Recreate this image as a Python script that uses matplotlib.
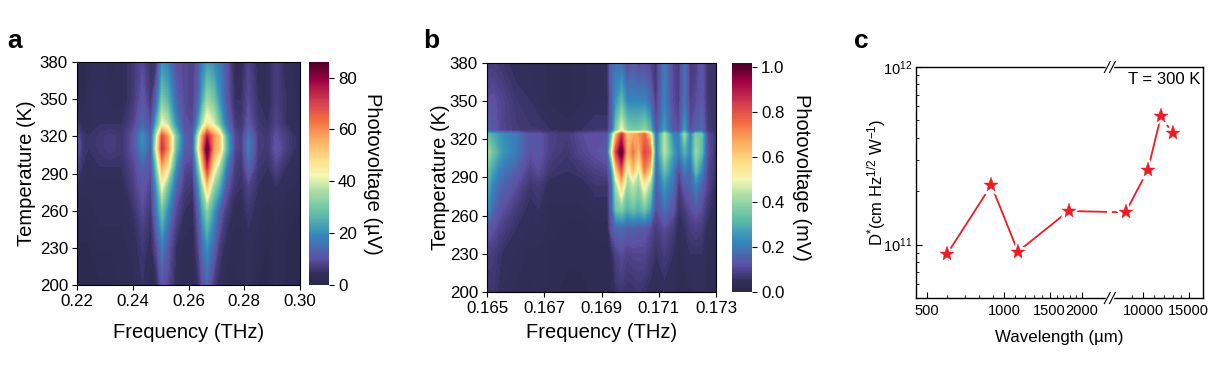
import numpy as np
import matplotlib
matplotlib.use('Agg')
import matplotlib.pyplot as plt
from matplotlib.colors import LinearSegmentedColormap
from matplotlib.patches import Rectangle
from matplotlib.ticker import FixedLocator, FixedFormatter, NullFormatter, LogLocator

plt.rcParams['font.family'] = ['Liberation Sans', 'DejaVu Sans']
plt.rcParams['mathtext.fontset'] = 'custom'
plt.rcParams['mathtext.rm'] = 'Liberation Sans'
plt.rcParams['mathtext.it'] = 'Liberation Sans'

# panel a
freq_a = [.22, .222, .224, .228, .232, .236, .24, .2435, .2465, .2485, .2505, .2525, .2555, .2585, .2615,
          .2635, .265, .2667, .269, .271, .2735, .2765, .279, .2815, .285, .2885, .2915, .295, .30]
temp_a = [200, 230, 260, 280, 295, 310, 320, 330, 350, 380]
a_200 = [2, 2, 2, 2, 2, 3, 3, 5, 3, 4, 11, 9, 4, 3, 3, 5, 10, 13, 7, 4, 3, 2, 3, 4, 2, 2, 3, 2, 2]
a_230 = [2, 2, 2, 3, 3, 3, 4, 6, 4, 9, 17, 11, 5, 3, 3, 8, 15, 20, 13, 7, 4, 3, 3, 4, 3, 2, 3, 2, 2]
a_260 = [3, 3, 3, 4, 4, 4, 5, 9, 6, 17, 29, 20, 9, 5, 4, 12, 24, 32, 22, 13, 7, 4, 4, 6, 4, 3, 4, 3, 2]
a_280 = [5, 4, 4, 4, 4, 4, 7, 11, 8, 22, 42, 30, 14, 7, 6, 20, 34, 52, 34, 26, 12, 6, 5, 8, 5, 4, 5, 4, 3]
a_295 = [8, 5, 4, 5, 5, 5, 8, 13, 10, 30, 55, 46, 20, 9, 8, 28, 50, 72, 46, 36, 18, 7, 6, 13, 6, 5, 8, 5, 4]
a_310 = [11, 6, 5, 6, 7, 6, 10, 19, 12, 42, 72, 60, 28, 12, 11, 42, 62, 86, 58, 52, 28, 9, 7, 17, 7, 6, 11, 7, 4]
a_320 = [10, 6, 5, 6, 7, 6, 10, 20, 12, 38, 68, 58, 30, 13, 11, 38, 58, 75, 60, 52, 26, 9, 7, 16, 7, 6, 10, 7, 4]
a_330 = [6, 4, 4, 5, 5, 5, 8, 14, 9, 25, 42, 38, 20, 10, 9, 22, 36, 46, 40, 30, 16, 7, 6, 11, 6, 5, 8, 5, 4]
a_350 = [3, 2, 4, 5, 4, 4, 6, 11, 6, 14, 30, 26, 14, 9, 8, 13, 24, 34, 30, 21, 12, 5, 5, 9, 5, 4, 7, 5, 3]
a_380 = [3, 2, 3, 4, 3, 4, 6, 9, 5, 6, 20, 18, 10, 9, 8, 11, 18, 22, 20, 17, 11, 4, 4, 8, 4, 4, 7, 4, 3]
rows_a = [a_200, a_230, a_260, a_280, a_295, a_310, a_320, a_330, a_350, a_380]

# panel b
freq_b = [.165, .1652, .1655, .166, .1665, .1668, .1672, .1678, .1683, .1688, .1692, .16935, .1695, .1697, .1699,
          .1701, .1703, .1705, .1707, .1709, .1712, .1715, .1717, .1719, .1721, .1723, .1725, .1727, .173]
temp_b = [200, 230, 250, 265, 285, 295, 310, 324, 327, 350, 380]
b_200 = [.06, .07, .05, .04, .03, .04, .03, .02, .02, .03, .03, .03, .06, .07, .06, .06, .07, .06, .05, .04, .05, .05, .03, .03, .04, .05, .05, .03, .03]
b_230 = [.09, .08, .06, .05, .04, .04, .03, .03, .03, .03, .03, .05, .09, .11, .09, .1, .1, .1, .08, .06, .08, .06, .04, .05, .06, .06, .06, .04, .03]
b_250 = [.14, .12, .09, .06, .05, .05, .04, .03, .03, .04, .04, .13, .16, .17, .14, .15, .14, .14, .11, .08, .11, .08, .05, .06, .08, .09, .08, .05, .04]
b_265 = [.24, .17, .12, .08, .05, .06, .04, .04, .04, .05, .05, .15, .34, .37, .3, .34, .3, .35, .27, .11, .18, .13, .06, .08, .11, .13, .11, .07, .04]
b_285 = [.3, .22, .16, .12, .07, .08, .05, .05, .05, .07, .07, .16, .42, .62, .4, .46, .4, .54, .42, .14, .26, .18, .08, .14, .16, .22, .16, .1, .05]
b_295 = [.34, .27, .2, .15, .09, .11, .07, .06, .07, .09, .1, .22, .58, .78, .46, .62, .46, .72, .58, .15, .33, .21, .1, .2, .16, .32, .22, .1, .06]
b_310 = [.42, .35, .26, .2, .12, .13, .09, .07, .1, .12, .14, .48, .82, 1.02, .62, .74, .62, .82, .76, .17, .44, .27, .2, .3, .22, .4, .32, .12, .06]
b_324 = [.34, .29, .24, .2, .12, .13, .09, .08, .11, .12, .12, .33, .62, .85, .62, .66, .7, .76, .58, .16, .44, .22, .2, .4, .2, .37, .34, .11, .07]
b_327 = [.15, .14, .1, .08, .07, .07, .06, .05, .06, .07, .07, .16, .36, .5, .38, .36, .36, .4, .32, .12, .26, .13, .11, .26, .11, .15, .17, .08, .06]
b_350 = [.11, .12, .1, .07, .06, .05, .04, .03, .04, .05, .05, .15, .24, .32, .22, .22, .22, .22, .17, .08, .21, .11, .09, .19, .09, .11, .14, .07, .06]
b_380 = [.08, .08, .07, .05, .05, .05, .04, .03, .04, .05, .05, .17, .19, .18, .1, .14, .1, .12, .1, .07, .2, .1, .08, .18, .08, .09, .13, .07, .06]
rows_b = [b_200, b_230, b_250, b_265, b_285, b_295, b_310, b_324, b_327, b_350, b_380]

# panel c
wavelength = [600, 890, 1130, 1780, 8520, 10400, 11700, 13000]
detectivity = [8.9e10, 2.16e11, 9.13e10, 1.545e11, 1.52e11, 2.63e11, 5.28e11, 4.23e11]

stops = [(0, '#2b2747'), (.05, '#332e5c'), (.115, '#5e4fa2'), (.22, '#3288bd'), (.33, '#66c2a5'),
         (.42, '#abdda4'), (.49, '#f4f8b4'), (.56, '#fee08b'), (.65, '#fdae61'), (.74, '#f46d43'),
         (.82, '#d53e4f'), (.92, '#9e0142'), (1, '#4a0028')]
cmap = LinearSegmentedColormap.from_list('spec', stops)

W, H = 1210, 374
RED = '#ed1c24'


def add_px(x0, y0, x1, y1):
    return fig.add_axes([x0 / W, 1 - y1 / H, (x1 - x0) / W, (y1 - y0) / H])


def heat(ax, cax, f, t, rows, vmax, cticks, clabel, xticks, xlabels, ypad, cpad):
    levels = np.linspace(0, vmax, 120)
    cs = ax.contourf(f, t, np.array(rows), levels=levels, cmap=cmap)
    ax.set_xticks(xticks)
    ax.set_xticklabels(xlabels)
    ax.set_yticks([200, 230, 260, 290, 320, 350, 380])
    ax.set_ylim(200, 380)
    ax.set_xlim(f[0], f[-1])
    ax.tick_params(labelsize=12.2, length=3.5, width=0.8, pad=3)
    ax.set_ylabel('Temperature (K)', fontsize=14.5, labelpad=ypad)
    cb = fig.colorbar(cs, cax=cax)
    cb.set_ticks(cticks)
    cb.ax.tick_params(labelsize=12.2, length=3.5, width=0.8, pad=3)
    cb.outline.set_visible(False)
    cb.set_label(clabel, fontsize=14.5, rotation=270, labelpad=cpad)


fig = plt.figure(figsize=(12.1, 3.74), dpi=100)

ax_a = add_px(77, 62, 300, 285)
cax_a = add_px(309, 62, 329, 285)
heat(ax_a, cax_a, freq_a, temp_a, rows_a, 86, [0, 20, 40, 60, 80], 'Photovoltage (\u00b5V)',
     [.22, .24, .26, .28, .30], ['0.22', '0.24', '0.26', '0.28', '0.30'], 2.5, 18)
ax_a.set_xlabel('Frequency (THz)', fontsize=14.5, labelpad=10)

ax_b = add_px(487, 63, 716, 292)
cax_b = add_px(732, 63, 752, 292)
heat(ax_b, cax_b, freq_b, temp_b, rows_b, 1.02, [0, .2, .4, .6, .8, 1.0], 'Photovoltage (mV)',
     [.165, .167, .169, .171, .173], ['0.165', '0.167', '0.169', '0.171', '0.173'], 0, 19)
ax_b.set_xlabel('Frequency (THz)', fontsize=14.5, labelpad=5)

# panel c, log x with a cut between 2574 and 7390
ax_c = add_px(916, 67, 1203, 298)
cut_lo, cut_hi = 2574.0, 7390.0
shift = np.log2(cut_hi / cut_lo)


def fwd(x):
    x = np.maximum(np.asarray(x, dtype=float), 1e-3)
    v = np.log2(x)
    return np.where(x >= cut_hi, v - shift, np.where(x > cut_lo, np.log2(cut_lo), v))


def inv(v):
    v = np.asarray(v, dtype=float)
    return np.where(v > np.log2(cut_lo), 2 ** (v + shift), 2 ** v)


ax_c.set_xscale('function', functions=(fwd, inv))
ax_c.set_yscale('log')
ax_c.set_xlim(453, 17060)
ax_c.set_ylim(5e10, 1e12)
ax_c.plot(wavelength, detectivity, color=RED, lw=1.3, zorder=2)
ax_c.plot(wavelength, detectivity, ls='none', marker='*', ms=14, mfc='white', mec='white', mew=3, zorder=3)
ax_c.plot(wavelength, detectivity, ls='none', marker='*', ms=11, color=RED, mew=0.3, zorder=4)
major = [500, 1000, 1500, 2000, 10000, 15000]
minor = [600, 700, 800, 900, 1100, 1200, 1300, 1400, 1600, 1700, 1800, 1900, 9000, 11000, 12000, 13000, 14000]
ax_c.xaxis.set_major_locator(FixedLocator(major))
ax_c.xaxis.set_major_formatter(FixedFormatter(['500', '1000', '1500', '2000', '10000', '15000']))
ax_c.xaxis.set_minor_locator(FixedLocator(minor))
ax_c.xaxis.set_minor_formatter(NullFormatter())
ax_c.yaxis.set_major_locator(FixedLocator([1e11, 1e12]))
ax_c.yaxis.set_minor_locator(LogLocator(base=10, subs=np.arange(2, 10) * 0.1, numticks=10))
ax_c.yaxis.set_minor_formatter(NullFormatter())
ax_c.tick_params(axis='x', which='major', direction='in', labelsize=10.5, length=4, width=0.8, pad=4)
ax_c.tick_params(axis='y', which='major', direction='in', labelsize=10.5, length=4, width=0.8, pad=3)
ax_c.tick_params(axis='both', which='minor', direction='in', length=2, width=0.6)
ax_c.set_xlabel('Wavelength (\u00b5m)', fontsize=12.2, labelpad=9)
ax_c.set_ylabel('D$^{*}$(cm Hz$^{1/2}$ W$^{-1}$)', fontsize=12, labelpad=-4)
ax_c.text(0.99, 0.945, 'T = 300 K', transform=ax_c.transAxes, ha='right', va='center', fontsize=12)
for s in ax_c.spines.values():
    s.set_linewidth(1.0)

# break marks, the cut also interrupts the line
bx = (1109 - 916) / (1203 - 916)
ax_c.add_patch(Rectangle((bx - 0.006, 0.05), 0.018, 0.9, transform=ax_c.transAxes, color='white', lw=0, zorder=2.5))
for by in (0, 1):
    ax_c.plot([bx - 0.006, bx + 0.012], [by, by], transform=ax_c.transAxes, color='white', lw=2.5, clip_on=False, zorder=5)
    for dx in (-0.006, 0.012):
        ax_c.plot([bx + dx - 0.01, bx + dx + 0.01], [by - 0.024, by + 0.024], transform=ax_c.transAxes,
                  color='black', lw=0.8, clip_on=False, zorder=6)

fig.text(7 / W, 1 - 48 / H, 'a', fontsize=19, fontweight='bold')
fig.text(423 / W, 1 - 48 / H, 'b', fontsize=19, fontweight='bold')
fig.text(854 / W, 1 - 48 / H, 'c', fontsize=19, fontweight='bold')

fig.savefig('out.png', dpi=100)
